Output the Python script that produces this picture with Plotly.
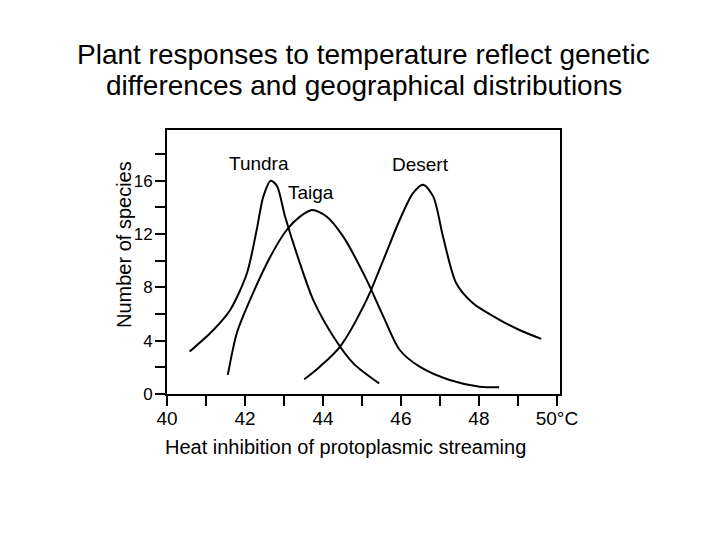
import plotly.graph_objects as go

# Curves (temperature in °C, number of species)
tundra_x = [40.58, 41.19, 41.62, 42.05, 42.30, 42.47, 42.66, 42.82, 43.03, 43.41, 43.75, 44.27, 44.78, 45.44]
tundra_y = [3.18, 4.8, 6.3, 9.06, 12.3, 14.8, 16.0, 15.6, 13.3, 9.8, 7.06, 4.3, 2.3, 0.8]

taiga_x = [41.56, 41.79, 42.13, 42.65, 43.07, 43.41, 43.72, 44.10, 44.52, 45.12, 45.55, 45.97, 46.48, 47.25, 48.02, 48.52]
taiga_y = [1.43, 4.56, 7.06, 10.3, 12.3, 13.3, 13.8, 13.3, 11.8, 8.56, 5.8, 3.3, 2.05, 1.05, 0.55, 0.5]

desert_x = [43.52, 43.92, 44.44, 45.12, 45.55, 45.97, 46.31, 46.57, 46.83, 47.08, 47.42, 47.85, 48.53, 49.04, 49.6]
desert_y = [1.1, 2.05, 3.56, 7.06, 10.06, 13.07, 15.07, 15.7, 14.8, 11.8, 8.3, 6.8, 5.56, 4.8, 4.13]

# Curve labels and where they sit
label_names = ["Tundra", "Taiga", "Desert"]
label_x = [42.35, 43.7, 46.5]
label_y = [17.3, 15.1, 17.2]

title_lines = ["Plant responses to temperature reflect genetic",
               "differences and geographical distributions"]
x_title = "Heat inhibition of protoplasmic streaming"
y_title = "Number of species"

x_ticks = list(range(40, 51))
x_ticktext = ["40", "", "42", "", "44", "", "46", "", "48", "", "50°C"]
y_ticks = list(range(0, 20, 2))
y_ticktext = ["0", "", "4", "", "8", "", "12", "", "16", ""]

W, H = 720, 540
M_L, M_R, M_TOP, M_BOT = 159, 168, 122, 154
plot_w = W - M_L - M_R
plot_h = H - M_TOP - M_BOT


def px(x):
    return (x - M_L) / plot_w


def py(y):
    return (H - M_BOT - y) / plot_h


fig = go.Figure()
for xs, ys in [(tundra_x, tundra_y), (taiga_x, taiga_y), (desert_x, desert_y)]:
    fig.add_trace(go.Scatter(
        x=xs, y=ys, mode="lines",
        line=dict(color="black", width=2, shape="spline", smoothing=0.8),
        showlegend=False, hoverinfo="skip",
    ))

for name, lx, ly in zip(label_names, label_x, label_y):
    fig.add_annotation(x=lx, y=ly, text=name, showarrow=False,
                       font=dict(size=19, color="black"))

# two title lines placed separately (tight line spacing in the original)
for i, line in enumerate(title_lines):
    fig.add_annotation(x=0.5, xref="paper", y=py(47 + 30 * i), yref="paper",
                       text=line, showarrow=False, xanchor="center", yanchor="middle",
                       font=dict(size=28, color="black"))

# axis titles sit off-centre in the original, so place them by hand
fig.add_annotation(x=px(337), xref="paper", y=py(439), yref="paper", text=x_title,
                   showarrow=False, xanchor="center", yanchor="middle", font=dict(size=20))
fig.add_annotation(x=px(116), xref="paper", y=py(237), yref="paper", text=y_title,
                   textangle=-90, showarrow=False, xanchor="center", yanchor="middle",
                   font=dict(size=20))

# page body has an 8px margin, so the figure is shifted up/left by 8px
fig.update_layout(
    width=W, height=H,
    paper_bgcolor="white", plot_bgcolor="white",
    font=dict(family="Liberation Sans, Arial, sans-serif", color="black"),
    margin=dict(l=M_L, r=M_R, t=M_TOP, b=M_BOT),
)

fig.update_xaxes(
    range=[40, 50.08], tickvals=x_ticks, ticktext=x_ticktext,
    ticks="outside", ticklen=10, tickwidth=2, tickcolor="black",
    showline=True, linewidth=2, linecolor="black", mirror=True,
    showgrid=False, zeroline=False, ticklabelstandoff=-4,
    tickfont=dict(size=19),
)
fig.update_yaxes(
    range=[0, 19.8], tickvals=y_ticks, ticktext=y_ticktext,
    ticks="outside", ticklen=10, tickwidth=2, tickcolor="black",
    showline=True, linewidth=2, linecolor="black", mirror=True,
    showgrid=False, zeroline=False, ticklabelstandoff=-1,
    tickfont=dict(size=17),
)

fig.write_html("out.html")
